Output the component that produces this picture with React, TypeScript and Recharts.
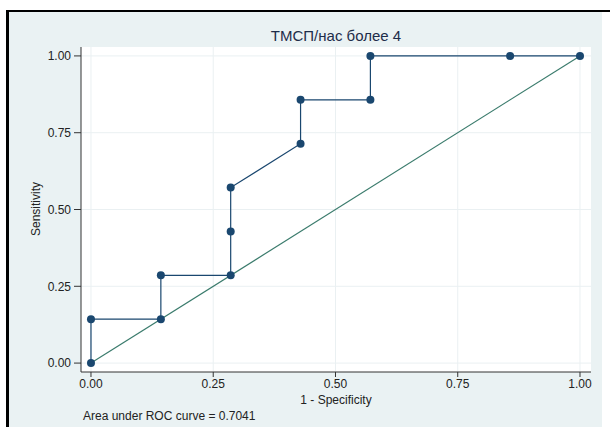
import { LineChart, Line, XAxis, YAxis, CartesianGrid } from 'recharts';

const specificity1 = [0, 0, 0.1429, 0.1429, 0.2857, 0.2857, 0.2857, 0.4286, 0.4286, 0.5714, 0.5714, 0.8571, 1];
const sensitivity = [0, 0.1429, 0.1429, 0.2857, 0.2857, 0.4286, 0.5714, 0.7143, 0.8571, 0.8571, 1, 1, 1];
const refX = [0, 1];
const refY = [0, 1];
const ticks = [0, 0.25, 0.5, 0.75, 1];

const rocData = specificity1.map((x, i) => ({ x, y: sensitivity[i] }));
const refData = refX.map((x, i) => ({ x, y: refY[i] }));

const font = '"Liberation Sans", Arial, sans-serif';
const navy = '#1a476f';

export default function App() {
  return (
    <div style={{ position: 'absolute', left: 0, top: 0, width: 610, height: 427, background: '#fff', overflow: 'hidden', fontFamily: font }}>
      <div style={{ position: 'absolute', left: 6, top: 10, width: 604, height: 2, background: '#000' }} />
      <div style={{ position: 'absolute', left: 6, top: 10, width: 3, height: 417, background: '#000' }} />
      <div style={{ position: 'absolute', left: 9, top: 12, width: 593, height: 415, background: '#eaf2f3' }} />
      <div style={{ position: 'absolute', left: 10, top: 12 }}>
        <LineChart width={592} height={415} margin={{ top: 35, right: 11, bottom: 25, left: 21 }}>
          <CartesianGrid fill="#fff" stroke="#eaf0f2" strokeWidth={1} verticalValues={ticks} horizontalValues={ticks} />
          <XAxis
            type="number"
            dataKey="x"
            domain={[-0.0204, 1.0225]}
            ticks={ticks}
            allowDataOverflow
            tickFormatter={(v: number) => v.toFixed(2)}
            tick={{ fontSize: 12, fill: '#222', fontFamily: font }}
            stroke="#333"
            tickSize={5}
            tickMargin={2}
            height={30}
          />
          <YAxis
            type="number"
            dataKey="y"
            domain={[-0.029, 1.029]}
            ticks={ticks}
            allowDataOverflow
            tickFormatter={(v: number) => v.toFixed(2)}
            tick={{ fontSize: 12, fill: '#222', fontFamily: font }}
            stroke="#333"
            tickSize={7}
            tickMargin={3}
            width={50}
          />
          <Line
            data={refData}
            dataKey="y"
            type="linear"
            stroke="#3a7b6c"
            strokeWidth={1.2}
            dot={false}
            isAnimationActive={false}
          />
          <Line
            data={rocData}
            dataKey="y"
            type="linear"
            stroke={navy}
            strokeWidth={1.2}
            dot={{ r: 4, fill: navy, stroke: 'none' }}
            isAnimationActive={false}
          />
        </LineChart>
      </div>
      <div style={{ position: 'absolute', left: 186, width: 300, top: 27, textAlign: 'center', fontSize: 15, color: '#1e2d4a' }}>
        ТМСП/нас более 4
      </div>
      <div style={{ position: 'absolute', left: 236, width: 200, top: 393, textAlign: 'center', fontSize: 12, color: '#222' }}>
        1 - Specificity
      </div>
      <div style={{ position: 'absolute', left: -14, width: 100, top: 202, textAlign: 'center', fontSize: 12, color: '#222', transform: 'rotate(-90deg)' }}>
        Sensitivity
      </div>
      <div style={{ position: 'absolute', left: 83, top: 409, fontSize: 12, color: '#222', whiteSpace: 'nowrap' }}>
        Area under ROC curve = 0.7041
      </div>
    </div>
  );
}
